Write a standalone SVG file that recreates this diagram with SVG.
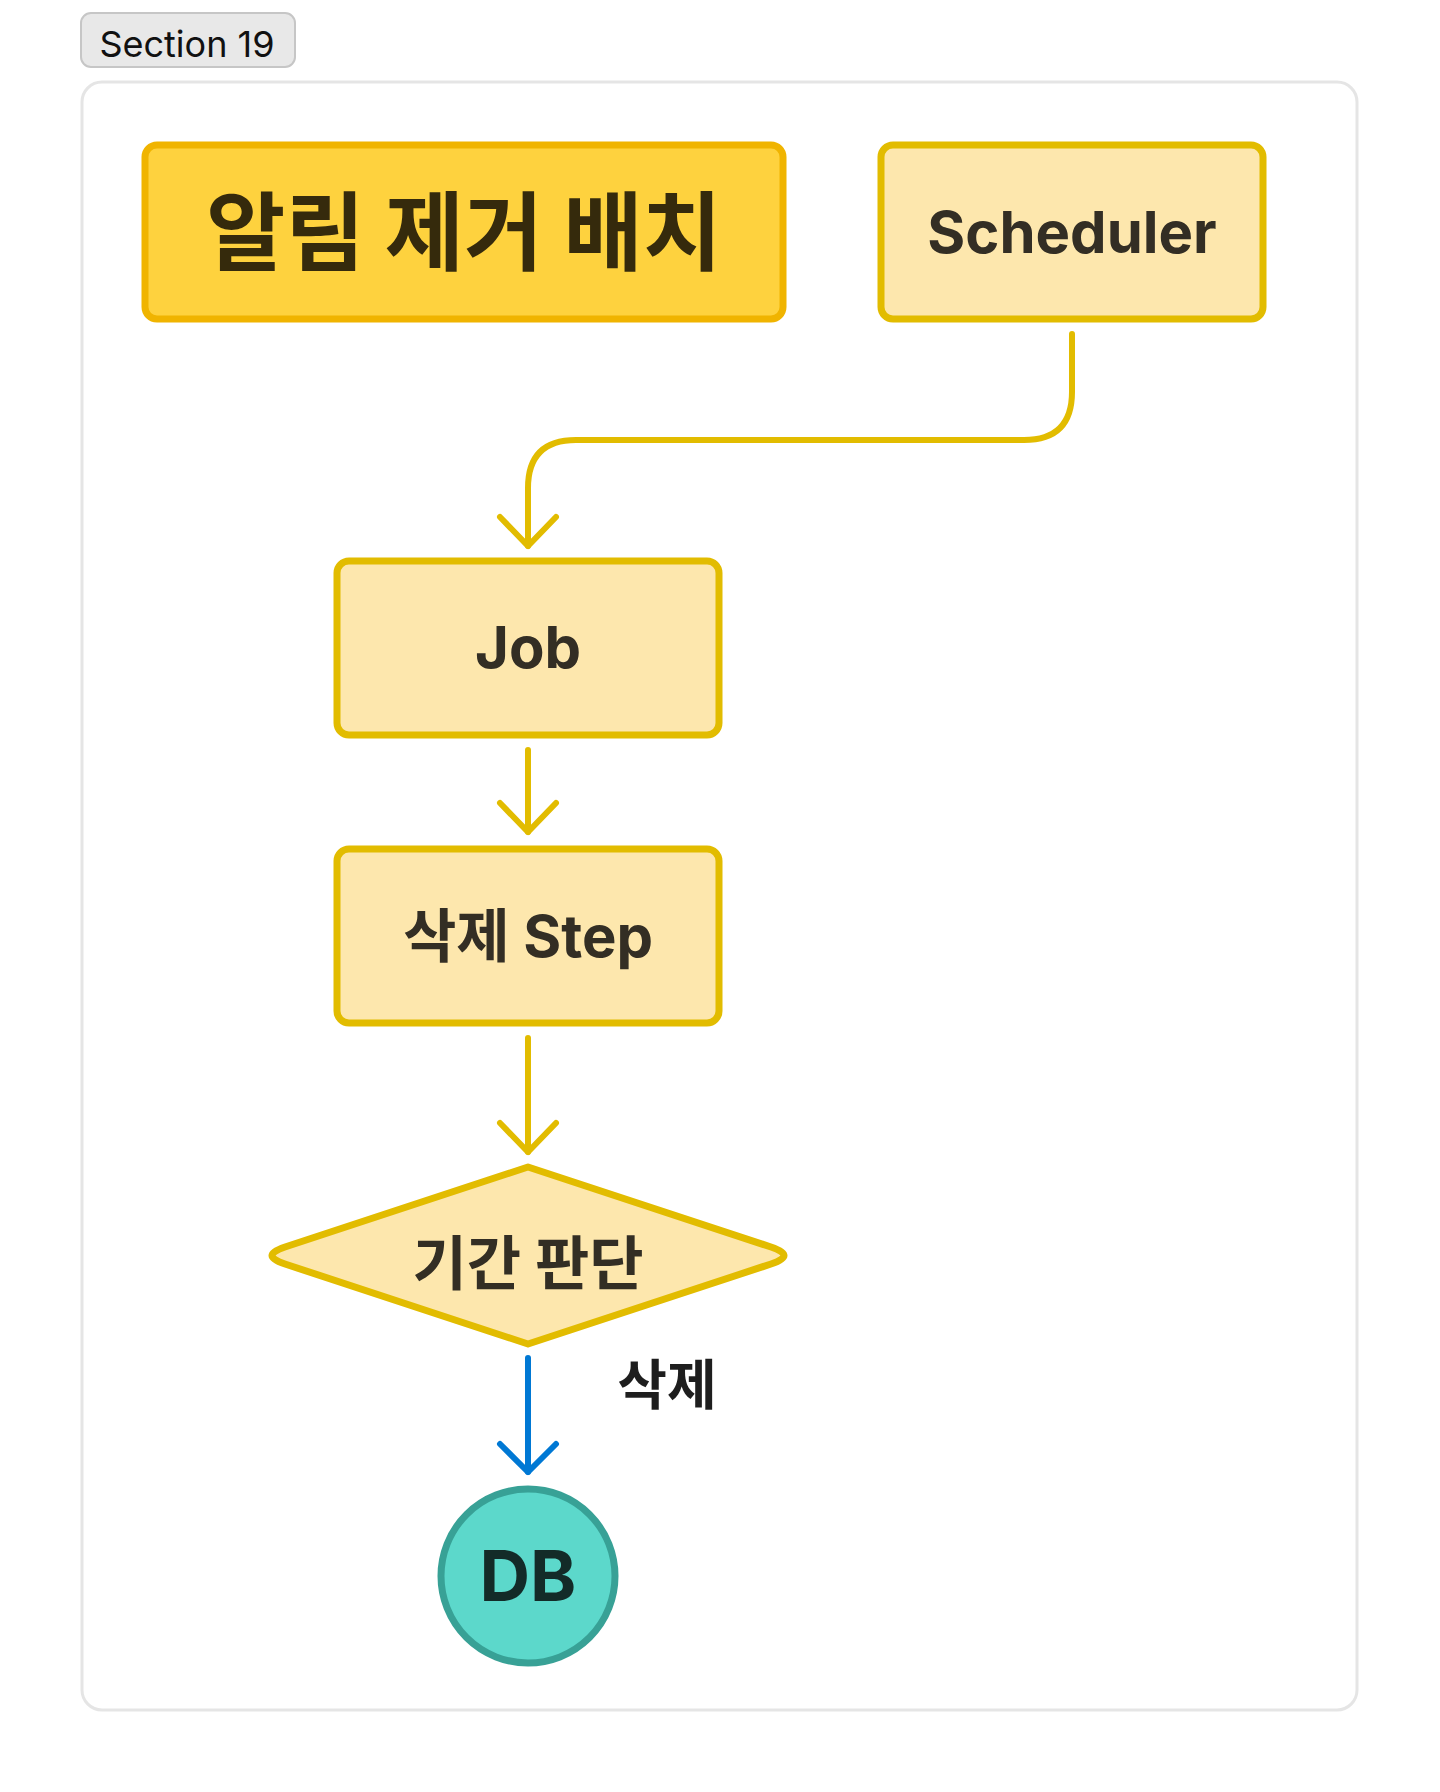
<svg xmlns="http://www.w3.org/2000/svg" width="1440" height="1792" viewBox="0 0 1440 1792">
<defs>
<style>
.lbl{font-family:Inter,"Noto Sans CJK KR",sans-serif;font-weight:700;text-anchor:middle}
.node{fill:#fde7ad;stroke:#e2bc00;stroke-width:7}
.conn{fill:none;stroke:#e2bc00;stroke-width:6;stroke-linecap:round;stroke-linejoin:round}
.blue{fill:none;stroke:#0078d4;stroke-width:6;stroke-linecap:round;stroke-linejoin:round}
</style>
</defs>
<rect x="0" y="0" width="1440" height="1792" fill="#ffffff"/>
<g id="section">
<rect x="82" y="82" width="1275" height="1628" rx="20" fill="#ffffff" stroke="#e5e5e5" stroke-width="3"/>
<rect x="81" y="13" width="214" height="54" rx="10" fill="#e8e8e8" stroke="#c6c6c6" stroke-width="2"/>
<text x="187" y="57" font-family="Inter,sans-serif" font-size="36" fill="#111111" text-anchor="middle">Section 19</text>
</g>
<g id="title">
<rect x="145" y="145" width="638" height="174" rx="12" fill="#fed23e" stroke="#f0b400" stroke-width="7"/>
<text class="lbl" x="464" y="264" font-size="86" fill="#352a0c">알림 제거 배치</text>
</g>
<g id="scheduler">
<rect class="node" x="881" y="145" width="382" height="174" rx="12"/>
<text class="lbl" x="1072" y="253" font-size="58" fill="#332e24">Scheduler</text>
</g>
<g id="job">
<rect class="node" x="337" y="561" width="382" height="174" rx="12"/>
<text class="lbl" x="528" y="668" font-size="58" fill="#332e24">Job</text>
</g>
<g id="step">
<rect class="node" x="337" y="849" width="382" height="174" rx="12"/>
<text class="lbl" x="528" y="957" font-size="58" fill="#332e24">삭제 Step</text>
</g>
<g id="decision">
<path class="node" stroke-linejoin="round" d="M528,1167 L771,1247 Q797,1255.5 771,1264 L528,1344 L285,1264 Q259,1255.5 285,1247 Z"/>
<text class="lbl" x="528" y="1285" font-size="59" fill="#332e24">기간 판단</text>
</g>
<g id="db">
<circle cx="528" cy="1576" r="87" fill="#5cd8cb" stroke="#38a196" stroke-width="7"/>
<text class="lbl" x="528" y="1601" font-size="70" fill="#132b28">DB</text>
</g>
<g id="connectors">
<path class="conn" d="M1072,334 V392 Q1072,440 1024,440 H576 Q528,440 528,488 V546"/>
<path class="conn" d="M500,517 L528,546 L556,517"/>
<path class="conn" d="M528,750 V832"/>
<path class="conn" d="M500,803 L528,832 L556,803"/>
<path class="conn" d="M528,1038 V1152"/>
<path class="conn" d="M500,1123 L528,1152 L556,1123"/>
<path class="blue" d="M528,1358 V1472"/>
<path class="blue" d="M500,1444 L528,1472 L556,1444"/>
<text class="lbl" x="667" y="1405" font-size="54" fill="#1e1e1e">삭제</text>
</g>
</svg>
